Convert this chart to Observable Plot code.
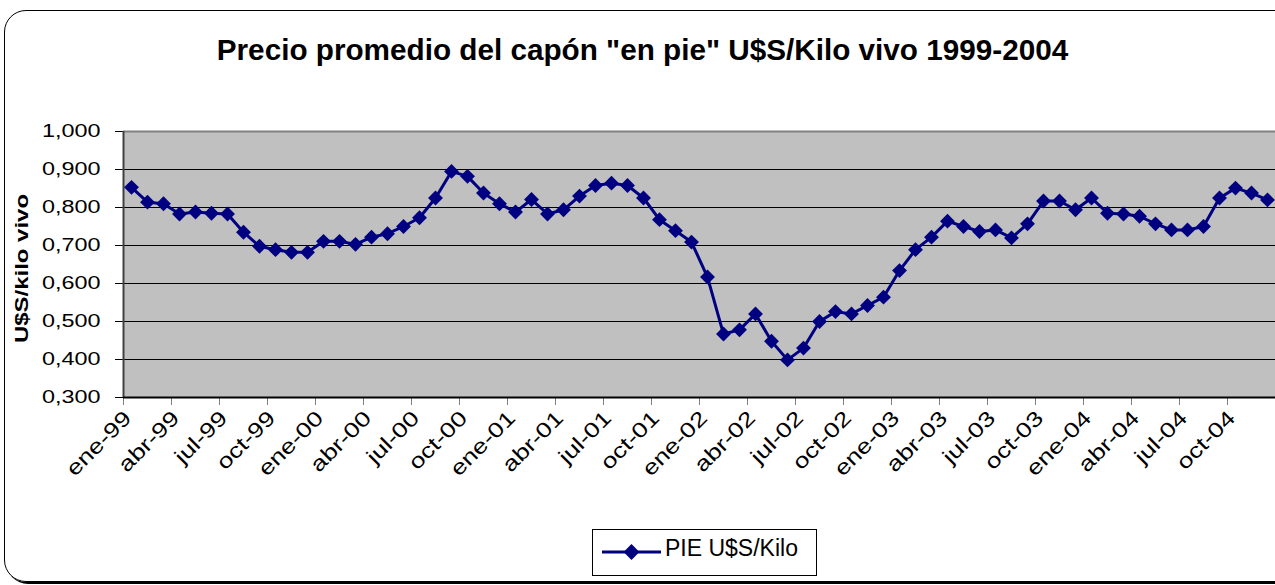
<!DOCTYPE html>
<html><head><meta charset="utf-8">
<script src="https://cdn.jsdelivr.net/npm/d3@7"></script>
<script src="https://cdn.jsdelivr.net/npm/@observablehq/plot@0.6"></script>
<style>
html,body{margin:0;padding:0;background:#fff;}
#wrap{position:relative;width:1275px;height:585px;overflow:hidden;font-family:"Liberation Sans",Arial,sans-serif;}
#border{position:absolute;left:4px;top:10px;width:1300px;height:572px;box-sizing:border-box;border:1.5px solid #000;border-radius:22px;box-shadow:2px 2px 0 #000;}
#title{position:absolute;left:0;width:1285px;top:36px;text-align:center;font-weight:bold;font-size:29.7px;line-height:28px;color:#000;}
#chart{position:absolute;left:0;top:0;}
#legend{position:absolute;left:592px;top:529px;width:225px;height:47px;box-sizing:border-box;border:1.2px solid #000;background:#fff;}
#legend svg{position:absolute;left:0;top:0;}
#legend span{position:absolute;left:72px;top:7px;font-size:23px;line-height:23px;white-space:nowrap;color:#000;}
</style>
</head><body>
<div id="wrap">
  <div id="border"></div>
  <div id="chart"></div>
  <div id="title"></div>
  <div id="legend"></div>
</div>
<script>
const title = 'Precio promedio del capón "en pie" U$S/Kilo vivo 1999-2004';
const yLabel = "U$S/kilo vivo";
const seriesName = "PIE U$S/Kilo";
const categories = [
  "ene-99","feb-99","mar-99","abr-99","may-99","jun-99","jul-99","ago-99","sep-99","oct-99","nov-99","dic-99",
  "ene-00","feb-00","mar-00","abr-00","may-00","jun-00","jul-00","ago-00","sep-00","oct-00","nov-00","dic-00",
  "ene-01","feb-01","mar-01","abr-01","may-01","jun-01","jul-01","ago-01","sep-01","oct-01","nov-01","dic-01",
  "ene-02","feb-02","mar-02","abr-02","may-02","jun-02","jul-02","ago-02","sep-02","oct-02","nov-02","dic-02",
  "ene-03","feb-03","mar-03","abr-03","may-03","jun-03","jul-03","ago-03","sep-03","oct-03","nov-03","dic-03",
  "ene-04","feb-04","mar-04","abr-04","may-04","jun-04","jul-04","ago-04","sep-04","oct-04","nov-04","dic-04"
];
const values = [
  0.853, 0.814, 0.810, 0.783, 0.788, 0.785, 0.783, 0.735, 0.698, 0.689, 0.682, 0.682,
  0.711, 0.711, 0.703, 0.722, 0.731, 0.750, 0.773, 0.825, 0.895, 0.882, 0.838, 0.810,
  0.788, 0.821, 0.783, 0.794, 0.830, 0.858, 0.864, 0.858, 0.825, 0.768, 0.739, 0.709,
  0.617, 0.467, 0.478, 0.520, 0.448, 0.399, 0.430, 0.500, 0.526, 0.520, 0.542, 0.564,
  0.634, 0.689, 0.722, 0.764, 0.750, 0.737, 0.741, 0.720, 0.757, 0.817, 0.817, 0.794,
  0.825, 0.785, 0.783, 0.777, 0.757, 0.741, 0.741, 0.750, 0.825, 0.851, 0.838, 0.820
];
const tickLabels = [
  "ene-99","abr-99","jul-99","oct-99","ene-00","abr-00","jul-00","oct-00",
  "ene-01","abr-01","jul-01","oct-01","ene-02","abr-02","jul-02","oct-02",
  "ene-03","abr-03","jul-03","oct-03","ene-04","abr-04","jul-04","oct-04"
];
const yTicks = [0.3, 0.4, 0.5, 0.6, 0.7, 0.8, 0.9, 1.0];

const navy = "#000080";
const data = values.map((v, i) => ({pos: i + 0.5, v, month: categories[i]}));
const labelData = tickLabels.map(t => ({pos: categories.indexOf(t) + 0.5, t}));
const boundaries = d3.range(0, categories.length + 1, 3);
const fmt = d => d.toFixed(3).replace(".", ",");

const chart = Plot.plot({
  width: 1275,
  height: 585,
  marginLeft: 123,
  marginRight: 0,
  marginTop: 131,
  marginBottom: 188,
  style: {fontFamily: '"Liberation Sans", Arial, sans-serif', background: "transparent", overflow: "visible", color: "#000"},
  x: {type: "linear", domain: [0, categories.length]},
  y: {domain: [0.3, 1.0]},
  marks: [
    Plot.frame({fill: "#C0C0C0", stroke: null}),
    Plot.gridY(yTicks, {stroke: "#000", strokeOpacity: 1, strokeWidth: 1}),
    Plot.ruleY([1.0], {stroke: "#808080", strokeWidth: 2}),
    Plot.axisY(yTicks, {tickSize: 8, tickPadding: 15, tickFormat: fmt, fontSize: 18, stroke: "#000", fill: "#000", label: null}),
    Plot.axisX(boundaries, {tickSize: 8, tickFormat: () => "", stroke: "#808080", label: null}),
    Plot.ruleX([0], {stroke: "#404040", strokeWidth: 2}),
    Plot.ruleY([0.3], {stroke: "#000", strokeWidth: 2}),
    Plot.line(data, {x: "pos", y: "v", stroke: navy, strokeWidth: 3}),
    Plot.dot(data, {x: "pos", y: "v", symbol: "diamond2", r: 6.7, fill: navy, stroke: null}),
    Plot.text(labelData, {x: "pos", frameAnchor: "bottom", text: "t", rotate: -45, textAnchor: "end", dx: 1, dy: 22, fontSize: 21, fill: "#000"}),
    Plot.text([yLabel], {frameAnchor: "left", text: d => d, rotate: -90, textAnchor: "middle", dx: -101, dy: 4, fontSize: 18, fontWeight: "bold", fill: "#000"})
  ]
});
document.getElementById("chart").appendChild(chart);
document.getElementById("title").textContent = title;

// Excel-like widened axis text
const yTickTexts = new Set(yTicks.map(fmt));
chart.querySelectorAll("text").forEach(t => {
  const s = t.textContent;
  let k = 0;
  if (tickLabels.includes(s)) k = 1.25;
  else if (s === yLabel) k = 1.33;
  else if (yTickTexts.has(s)) k = 1.3;
  if (k) {
    const L = t.getComputedTextLength();
    if (L > 0) {
      t.setAttribute("textLength", L * k);
      t.setAttribute("lengthAdjust", "spacingAndGlyphs");
    }
  }
});

// legend
const leg = document.getElementById("legend");
const ls = d3.create("svg").attr("width", 225).attr("height", 47);
ls.append("line").attr("x1", 9).attr("x2", 68).attr("y1", 22).attr("y2", 22).attr("stroke", navy).attr("stroke-width", 3);
ls.append("path").attr("transform", "translate(38.5,22)").attr("d", d3.symbol(d3.symbolDiamond2, 160)()).attr("fill", navy);
leg.appendChild(ls.node());
const sp = document.createElement("span");
sp.textContent = seriesName;
leg.appendChild(sp);
</script>
</body></html>
